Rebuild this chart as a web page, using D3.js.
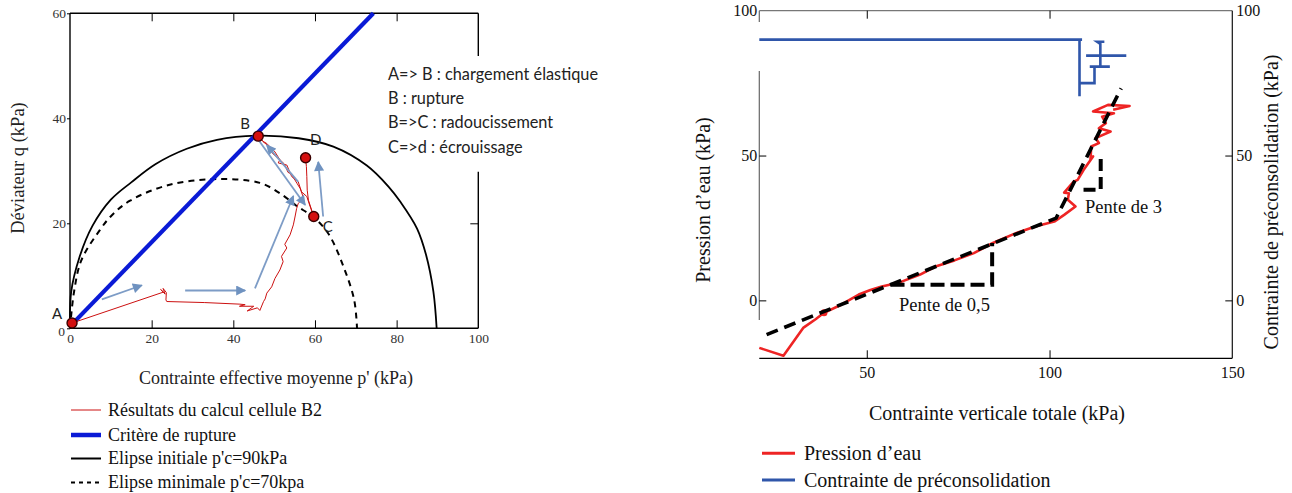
<!DOCTYPE html>
<html><head><meta charset="utf-8">
<script src="https://cdn.jsdelivr.net/npm/d3@7"></script>
<style>body{margin:0;background:#fff}svg{display:block}</style>
</head><body>
<svg id="c" width="1292" height="493"></svg>
<script>
// ---------- LEFT CHART DATA ----------
const pTicks = [0, 20, 40, 60, 80, 100];
const qTicks = [0, 20, 40, 60];
const critereRupture = [[0.3, 0.6], [74.3, 60]];
const ellipseInitiale = [[0,0],[0.3,7],[2.3,13.5],[5.5,19.5],[10,24.5],[15,27.8],[21,31.3],[28.6,34.2],[36,35.9],[46,36.7],[56,36.2],[64.5,34.6],[72.7,31],[78,27],[81,24],[85,19],[87.2,14],[89,7],[89.8,0]];
const ellipseMinimale = [[0,0],[1,7],[2.8,13],[7.3,18.7],[10.2,21.5],[14.7,24.3],[23.7,27.2],[35,28.4],[46.5,27.7],[52.2,25.3],[55.5,23.3],[59.6,21.2],[63.3,18],[67,11.7],[69.6,5.4],[70.3,0]];
const resultatsB2 = [[0.5,1],[22.9,6.9],[22.2,7.4],[23.3,6.5],[22.8,7.6],[23.6,6.8],[23.5,5.4],[23.7,5.1],[33,4.9],[41.6,4.6],[42.9,4.5],[41.5,4.2],[45,4.2],[43.4,3.3],[45.9,3.9],[46.5,3.4],[47.4,5.1],[47.8,5.6],[48.2,6.7],[49.4,7.9],[50.2,9.5],[51.4,11.1],[52.2,12.7],[51.8,13.7],[53.1,15.3],[52.6,16],[53.9,17.8],[54.7,19.7],[55.1,21.2],[55.5,22.8],[55.9,23.8],[57.2,24.8],[56.4,26.6],[55.6,27.6],[54.2,29.4],[53.4,29.7],[52.5,31.3],[51,32.4],[49.6,33.3],[48.8,34.6],[47.2,35.6],[46.1,36.6],[47.3,35.6],[48.2,35.2],[50.2,33.6],[51.4,32.1],[51,31.5],[53.1,31.1],[54.3,28.9],[55.9,27.9],[56.7,26],[58,25.1],[58.8,23.2],[59.7,21.3],[59.2,22.5],[58.4,24.4],[58.1,26.3],[58,28.9],[57.9,30.8],[57.7,32.5]];
const pointsLabels = ["A", "B", "C", "D"];
const pointsP = [0.5, 46.1, 59.7, 57.7];
const pointsQ = [1, 36.6, 21.3, 32.5];
const flechesDe = [[7.8,5.5],[28.2,7.2],[45.3,7.6],[55.9,27.9],[45.6,36.5],[62,21.3]];
const flechesVers = [[17.6,8.2],[42.9,7.2],[54.7,25.2],[48.2,34.9],[57.6,23.5],[60.8,31.7]];
const annotations = ["A=> B : chargement élastique", "B : rupture", "B=>C : radoucissement", "C=>d : écrouissage"];
const legendeGauche = ["Résultats du calcul cellule B2", "Critère de rupture", "Elipse initiale p'c=90kPa", "Elipse minimale p'c=70kpa"];

// ---------- RIGHT CHART DATA ----------
const sigmaTicks = [50, 100, 150];
const pressionTicks = [0, 50, 100];
const pressionEau = [[20.6,-16.4],[27.2,-19.1],[32.6,-9.5],[36,-6.5],[38.3,-4.3],[43,-1.5],[47.8,2],[51,3.6],[54.1,4.8],[59,6.2],[64.6,8.9],[68.8,11.7],[74,13.8],[79.3,16.3],[84.5,19.8],[90.8,23.2],[96.1,25.5],[101.3,27.2],[104,29.5],[107.1,32.4],[105,34.7],[105.3,37],[104,37.2],[106.6,41],[107.7,41.6],[109.3,45],[111.9,49.7],[111.2,48.5],[111.4,53.1],[113.5,54.3],[112.6,56],[116.7,58.3],[113.5,59.4],[115.4,61.2],[114.4,63.4],[117.6,64.6],[111.9,65.2],[116,67.5],[121.9,67.1],[117.4,65.8]];
const preconsolidation = [[20.6,90],[108.9,90],[108.2,90],[108.2,70.5],[108.2,75],[112.3,75],[112.3,80.7],[111,80.7],[116.5,80.7],[113.9,80.7],[113.9,84.5],[110,84.5],[121,84.5],[113.9,84.5],[113.9,88.5],[113,89.3],[115,89.3]];
const tendance = [[22.6,-11.8],[101.8,28.4],[119.6,73.2]];
const triangle05 = [[56.5,5.4],[84.3,5.4],[84.3,19.8]];
const triangle3 = [[109.3,38.2],[114,38.2],[114,50.2]];
const legendeDroite = ["Pression d’eau", "Contrainte de préconsolidation"];

// ---------- DRAWING ----------
const svg = d3.select("#c");
const SERIF = "'Liberation Serif','Times New Roman',serif";
const SANS = "Lato,'Open Sans',sans-serif";

// LEFT
const xL = d3.scaleLinear().domain([0, 100]).range([70, 478.3]);
const yL = d3.scaleLinear().domain([0, 60]).range([328.3, 13.3]);
const L = svg.append("g");
const lineL = d3.line().x(d => xL(d[0])).y(d => yL(d[1]));
const curveL = d3.line().x(d => xL(d[0])).y(d => yL(d[1])).curve(d3.curveCatmullRom.alpha(0.5));

// frame
L.append("line").attr("x1", xL(0)).attr("x2", xL(100)).attr("y1", yL(60)).attr("y2", yL(60)).attr("stroke", "#000").attr("stroke-width", 1.4);
L.append("line").attr("x1", xL(0)).attr("x2", xL(100)).attr("y1", yL(0)).attr("y2", yL(0)).attr("stroke", "#000").attr("stroke-width", 1.4);
L.append("line").attr("x1", xL(0)).attr("x2", xL(0)).attr("y1", yL(0)).attr("y2", yL(60)).attr("stroke", "#000").attr("stroke-width", 1.4);
L.append("line").attr("x1", xL(100)).attr("x2", xL(100)).attr("y1", yL(60)).attr("y2", 56).attr("stroke", "#000").attr("stroke-width", 1.4);
L.append("line").attr("x1", xL(100)).attr("x2", xL(100)).attr("y1", 171.7).attr("y2", yL(0)).attr("stroke", "#000").attr("stroke-width", 1.4);

function styleAxis(g, size, color) {
  g.select(".domain").remove();
  g.attr("font-family", SERIF).attr("font-size", size);
  g.selectAll("text").attr("font-family", SERIF).attr("font-size", size).attr("fill", color);
  g.selectAll("line").attr("stroke", "#000");
}
L.append("g").attr("transform", `translate(0,${yL(0)})`)
  .call(d3.axisBottom(xL).tickValues(pTicks).tickSize(-8).tickPadding(5))
  .call(g => styleAxis(g, 13.5, "#333"))
  .call(g => g.selectAll(".tick").filter(d => d === 0 || d === 100).select("line").remove());
L.append("g").attr("transform", `translate(0,${yL(60)})`)
  .call(d3.axisTop(xL).tickValues(pTicks.slice(1, 5)).tickSize(-8).tickFormat(""))
  .call(g => styleAxis(g, 13.5, "#333"));
L.append("g").attr("transform", `translate(${xL(0)},0)`)
  .call(d3.axisLeft(yL).tickValues(qTicks).tickSize(3).tickPadding(1))
  .call(g => styleAxis(g, 13.5, "#333"))
  .call(g => g.selectAll(".tick").filter(d => d === 0).select("text").attr("dy", "0.55em").attr("x", -5));
L.append("g").attr("transform", `translate(${xL(100)},0)`)
  .call(d3.axisRight(yL).tickValues([20]).tickSize(-8).tickFormat(""))
  .call(g => styleAxis(g, 13.5, "#333"));

// axis titles
L.append("text").attr("x", 276).attr("y", 384).attr("text-anchor", "middle")
  .attr("font-family", SERIF).attr("font-size", 18).attr("fill", "#222")
  .text("Contrainte effective moyenne p' (kPa)");
L.append("text").attr("transform", "translate(24,168) rotate(-90)").attr("text-anchor", "middle")
  .attr("font-family", SERIF).attr("font-size", 18.5).attr("fill", "#222")
  .text("Déviateur q (kPa)");

// curves
L.append("path").datum(ellipseMinimale).attr("d", curveL).attr("fill", "none")
  .attr("stroke", "#000").attr("stroke-width", 2).attr("stroke-dasharray", "6,5");
L.append("path").datum(ellipseInitiale).attr("d", curveL).attr("fill", "none")
  .attr("stroke", "#000").attr("stroke-width", 1.8);
L.append("path").datum(critereRupture).attr("d", lineL).attr("fill", "none")
  .attr("stroke", "#0a1ad6").attr("stroke-width", 4.2);
L.append("path").datum(resultatsB2).attr("d", lineL).attr("fill", "none")
  .attr("stroke", "#cc1010").attr("stroke-width", 1);

// arrows
const defs = svg.append("defs");
defs.append("marker").attr("id", "ah").attr("viewBox", "0 0 10 10").attr("refX", 9).attr("refY", 5)
  .attr("markerUnits", "userSpaceOnUse").attr("markerWidth", 11).attr("markerHeight", 10).attr("orient", "auto")
  .append("path").attr("d", "M0,0L10,5L0,10z").attr("fill", "#6f92c0");
L.selectAll(".arrow").data(d3.range(flechesDe.length)).enter().append("line")
  .attr("x1", i => xL(flechesDe[i][0])).attr("y1", i => yL(flechesDe[i][1]))
  .attr("x2", i => xL(flechesVers[i][0])).attr("y2", i => yL(flechesVers[i][1]))
  .attr("stroke", "#7d9cc6").attr("stroke-width", 1.8).attr("marker-end", "url(#ah)");

// key points
L.selectAll(".pt").data(d3.range(pointsP.length)).enter().append("circle")
  .attr("cx", i => xL(pointsP[i])).attr("cy", i => yL(pointsQ[i])).attr("r", 5)
  .attr("fill", "#d41010").attr("stroke", "#3a0000").attr("stroke-width", 1.4);
const labOff = [[-15, -8], [-13, -11], [14, 12], [10, -16]];
L.selectAll(".lab").data(d3.range(pointsP.length)).enter().append("text")
  .attr("x", i => xL(pointsP[i]) + labOff[i][0]).attr("y", i => yL(pointsQ[i]) + labOff[i][1])
  .attr("text-anchor", "middle").attr("dominant-baseline", "middle")
  .attr("font-family", SANS).attr("font-size", 15).attr("fill", "#222")
  .text(i => pointsLabels[i]);

// annotation
L.selectAll(".ann").data(annotations).enter().append("text")
  .attr("x", 388).attr("y", (d, i) => 80 + i * 24.2)
  .attr("font-family", SANS).attr("font-size", 16.3).attr("fill", "#222").text(d => d);

// left legend
const legY = [410, 435, 458.5, 482.5];
const legStyle = [
  {c: "#cc1010", w: 1, dash: null},
  {c: "#0a1ad6", w: 4.5, dash: null},
  {c: "#000", w: 2, dash: null},
  {c: "#000", w: 1.8, dash: "4,4"}
];
legendeGauche.forEach((t, i) => {
  L.append("line").attr("x1", 71).attr("x2", 101).attr("y1", legY[i]).attr("y2", legY[i])
    .attr("stroke", legStyle[i].c).attr("stroke-width", legStyle[i].w).attr("stroke-dasharray", legStyle[i].dash);
  L.append("text").attr("x", 108).attr("y", legY[i]).attr("dy", "0.33em")
    .attr("font-family", SERIF).attr("font-size", 18).attr("fill", "#111").text(t);
});

// RIGHT
const xR = d3.scaleLinear().domain([20.6, 150]).range([759.3, 1232.3]);
const yR = d3.scaleLinear().domain([-20, 100]).range([358.3, 10.7]);
const R = svg.append("g");
const lineR = d3.line().x(d => xR(d[0])).y(d => yR(d[1]));

// frame
R.append("line").attr("x1", xR(20.6)).attr("x2", xR(150)).attr("y1", yR(100)).attr("y2", yR(100)).attr("stroke", "#777").attr("stroke-width", 1.2);
R.append("line").attr("x1", xR(20.6)).attr("x2", xR(150)).attr("y1", yR(-20)).attr("y2", yR(-20)).attr("stroke", "#000").attr("stroke-width", 1.3);
R.append("line").attr("x1", xR(20.6)).attr("x2", xR(20.6)).attr("y1", yR(100)).attr("y2", 22).attr("stroke", "#666").attr("stroke-width", 1.2);
R.append("line").attr("x1", xR(20.6)).attr("x2", xR(20.6)).attr("y1", 71).attr("y2", 320).attr("stroke", "#666").attr("stroke-width", 1.2);
R.append("line").attr("x1", xR(150)).attr("x2", xR(150)).attr("y1", yR(100)).attr("y2", yR(-20)).attr("stroke", "#111").attr("stroke-width", 1.2);

R.append("g").attr("transform", `translate(0,${yR(-20)})`)
  .call(d3.axisBottom(xR).tickValues(sigmaTicks).tickSize(-8).tickPadding(8))
  .call(g => styleAxis(g, 16, "#111"))
  .call(g => g.selectAll(".tick").filter(d => d === 150).select("line").remove());
R.append("g").attr("transform", `translate(0,${yR(100)})`)
  .call(d3.axisTop(xR).tickValues([50, 100]).tickSize(-8).tickFormat(""))
  .call(g => styleAxis(g, 16, "#111"));
R.append("g").attr("transform", `translate(${xR(20.6)},0)`)
  .call(d3.axisLeft(yR).tickValues(pressionTicks).tickSize(-7).tickPadding(2))
  .call(g => styleAxis(g, 16, "#111"))
  .call(g => g.selectAll(".tick").filter(d => d === 100).select("line").remove());
R.append("g").attr("transform", `translate(${xR(150)},0)`)
  .call(d3.axisRight(yR).tickValues(pressionTicks).tickSize(-7).tickPadding(4))
  .call(g => styleAxis(g, 16, "#111"))
  .call(g => g.selectAll(".tick").filter(d => d === 100).select("line").remove());

// titles
R.append("text").attr("x", 997).attr("y", 420).attr("text-anchor", "middle")
  .attr("font-family", SERIF).attr("font-size", 20).attr("fill", "#111").text("Contrainte verticale totale (kPa)");
R.append("text").attr("transform", "translate(710,200) rotate(-90)").attr("text-anchor", "middle")
  .attr("font-family", SERIF).attr("font-size", 20).attr("fill", "#111").text("Pression d’eau (kPa)");
R.append("text").attr("transform", "translate(1278,202) rotate(-90)").attr("text-anchor", "middle")
  .attr("font-family", SERIF).attr("font-size", 20).attr("fill", "#111").text("Contrainte de préconsolidation (kPa)");

// series
R.append("path").datum(preconsolidation).attr("d", lineR).attr("fill", "none")
  .attr("stroke", "#2f56aa").attr("stroke-width", 2.6);
R.append("path").datum(pressionEau).attr("d", lineR).attr("fill", "none")
  .attr("stroke", "#ee2424").attr("stroke-width", 2.6).attr("stroke-linejoin", "round");
R.append("circle").attr("cx", xR(pressionEau[4][0])).attr("cy", yR(pressionEau[4][1])).attr("r", 3.5).attr("fill", "#ee2424");
R.append("path").datum(tendance).attr("d", lineR).attr("fill", "none")
  .attr("stroke", "#000").attr("stroke-width", 3.6).attr("stroke-dasharray", "12,7");
R.append("path").datum(triangle05).attr("d", lineR).attr("fill", "none")
  .attr("stroke", "#000").attr("stroke-width", 4).attr("stroke-dasharray", "14,6");
R.append("path").datum(triangle3).attr("d", lineR).attr("fill", "none")
  .attr("stroke", "#000").attr("stroke-width", 4).attr("stroke-dasharray", "12,6");

R.append("text").attr("x", 899).attr("y", 311).attr("font-family", SERIF).attr("font-size", 18.5).attr("fill", "#111").text("Pente de 0,5");
R.append("text").attr("x", 1085).attr("y", 213).attr("font-family", SERIF).attr("font-size", 18.5).attr("fill", "#111").text("Pente de 3");

// right legend
const legRY = [453.3, 480];
const legRC = ["#ee2424", "#2f56aa"];
legendeDroite.forEach((t, i) => {
  R.append("line").attr("x1", 762).attr("x2", 795).attr("y1", legRY[i]).attr("y2", legRY[i])
    .attr("stroke", legRC[i]).attr("stroke-width", 3);
  R.append("text").attr("x", 804).attr("y", legRY[i]).attr("dy", "0.33em")
    .attr("font-family", SERIF).attr("font-size", 20).attr("fill", "#111").text(t);
});
</script>
</body></html>
